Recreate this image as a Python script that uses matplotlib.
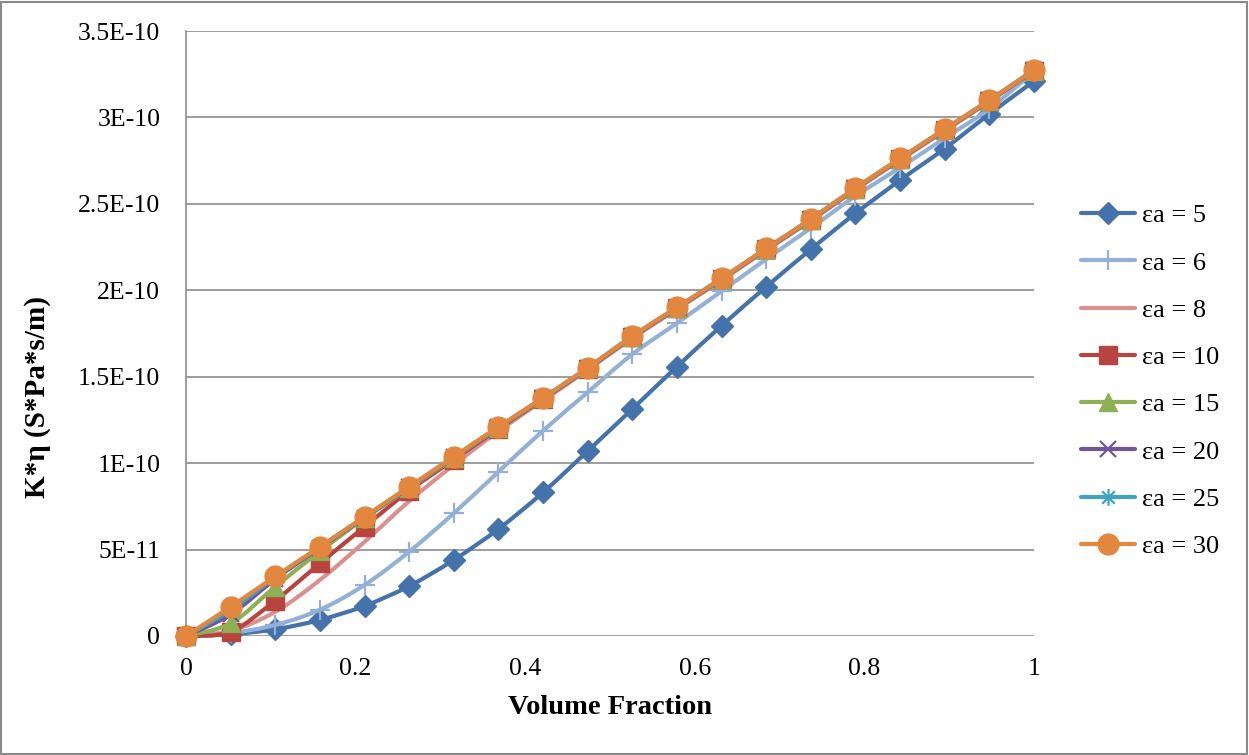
import numpy as np
import matplotlib
matplotlib.use("Agg")
import matplotlib.pyplot as plt
from matplotlib.path import Path
from matplotlib.patches import PathPatch, Rectangle
from matplotlib.lines import Line2D

# Volume fraction samples (20 equally spaced points from 0 to 1)
volume_fraction = [0.0, 0.0526, 0.1053, 0.1579, 0.2105, 0.2632, 0.3158, 0.3684, 0.4211, 0.4737,
                   0.5263, 0.5789, 0.6316, 0.6842, 0.7368, 0.7895, 0.8421, 0.8947, 0.9474, 1.0]

# K*eta (S*Pa*s/m) for each permittivity ratio
ea_5 = [0, 1.0e-12, 3.9e-12, 9.3e-12, 1.74e-11, 2.89e-11, 4.4e-11, 6.19e-11, 8.31e-11, 1.07e-10,
        1.313e-10, 1.558e-10, 1.795e-10, 2.02e-10, 2.237e-10, 2.445e-10, 2.637e-10, 2.82e-10, 3.02e-10, 3.21e-10]
ea_6 = [0, 1.7e-12, 6.4e-12, 1.52e-11, 2.95e-11, 4.88e-11, 7.1e-11, 9.5e-11, 1.188e-10, 1.41e-10,
        1.63e-10, 1.81e-10, 1.995e-10, 2.18e-10, 2.36e-10, 2.545e-10, 2.71e-10, 2.88e-10, 3.05e-10, 3.265e-10]
ea_8 = [0, 3.0e-12, 1.4e-11, 3.24e-11, 5.45e-11, 7.8e-11, 9.9e-11, 1.185e-10, 1.362e-10, 1.54e-10,
        1.722e-10, 1.89e-10, 2.058e-10, 2.232e-10, 2.402e-10, 2.582e-10, 2.753e-10, 2.922e-10, 3.092e-10, 3.268e-10]
ea_10 = [0, 2.5e-12, 2.05e-11, 4.2e-11, 6.32e-11, 8.4e-11, 1.02e-10, 1.198e-10, 1.37e-10, 1.545e-10,
         1.728e-10, 1.895e-10, 2.063e-10, 2.236e-10, 2.406e-10, 2.586e-10, 2.757e-10, 2.926e-10, 3.095e-10, 3.27e-10]
ea_15 = [0, 7.3e-12, 2.85e-11, 4.9e-11, 6.8e-11, 8.55e-11, 1.03e-10, 1.205e-10, 1.374e-10, 1.548e-10,
         1.731e-10, 1.897e-10, 2.065e-10, 2.238e-10, 2.408e-10, 2.588e-10, 2.759e-10, 2.928e-10, 3.097e-10, 3.271e-10]
ea_20 = [0, 1.25e-11, 3.3e-11, 5.1e-11, 6.85e-11, 8.6e-11, 1.034e-10, 1.207e-10, 1.376e-10, 1.55e-10,
         1.733e-10, 1.899e-10, 2.067e-10, 2.24e-10, 2.41e-10, 2.59e-10, 2.761e-10, 2.93e-10, 3.099e-10, 3.273e-10]
ea_25 = [0, 1.5e-11, 3.4e-11, 5.15e-11, 6.88e-11, 8.62e-11, 1.035e-10, 1.208e-10, 1.377e-10, 1.551e-10,
         1.734e-10, 1.9e-10, 2.068e-10, 2.241e-10, 2.411e-10, 2.591e-10, 2.762e-10, 2.931e-10, 3.1e-10, 3.274e-10]
ea_30 = [0, 1.69e-11, 3.45e-11, 5.16e-11, 6.9e-11, 8.64e-11, 1.037e-10, 1.21e-10, 1.378e-10, 1.552e-10,
         1.735e-10, 1.901e-10, 2.069e-10, 2.242e-10, 2.412e-10, 2.592e-10, 2.763e-10, 2.932e-10, 3.1e-10, 3.274e-10]

series_labels = ["εa = 5", "εa = 6", "εa = 8", "εa = 10", "εa = 15", "εa = 20", "εa = 25", "εa = 30"]
series_values = [ea_5, ea_6, ea_8, ea_10, ea_15, ea_20, ea_25, ea_30]

y_ticks = [0, 5e-11, 1e-10, 1.5e-10, 2e-10, 2.5e-10, 3e-10, 3.5e-10]
y_tick_labels = ["0", "5E-11", "1E-10", "1.5E-10", "2E-10", "2.5E-10", "3E-10", "3.5E-10"]
x_ticks = [0, 0.2, 0.4, 0.6, 0.8, 1]
x_tick_labels = ["0", "0.2", "0.4", "0.6", "0.8", "1"]

# Asterisk marker: a vertical stroke plus an X
star_marker = Path([(0, -1), (0, 1), (-0.75, -0.75), (0.75, 0.75), (-0.75, 0.75), (0.75, -0.75)],
                   [Path.MOVETO, Path.LINETO, Path.MOVETO, Path.LINETO, Path.MOVETO, Path.LINETO])

styles = [
    dict(color="#4472AA", marker="D", ms=11),
    dict(color="#93B0D6", marker="+", ms=15, mew=1.6),
    dict(color="#D9908E", marker=None, ms=0),
    dict(color="#B9443F", marker="s", ms=13),
    dict(color="#8DB052", marker="^", ms=13),
    dict(color="#72569A", marker="x", ms=12, mew=1.6),
    dict(color="#3FA3C2", marker=star_marker, ms=12, mew=1.6),
    dict(color="#E3863E", marker="o", ms=15),
]


def smooth_path(x, y):
    """Cubic Bezier path through the points (Catmull-Rom style tangents)."""
    pts = np.column_stack([x, y]).astype(float)
    n = len(pts)
    verts = [pts[0]]
    codes = [Path.MOVETO]
    for i in range(n - 1):
        p0 = pts[i - 1] if i > 0 else pts[i]
        p1 = pts[i]
        p2 = pts[i + 1]
        p3 = pts[i + 2] if i + 2 < n else pts[i + 1]
        c1 = p1 + (p2 - p0) / 6.0
        c2 = p2 - (p3 - p1) / 6.0
        verts += [c1, c2, p2]
        codes += [Path.CURVE4] * 3
    return Path(verts, codes)


W, H = 1249, 755
fig = plt.figure(figsize=(W / 100, H / 100), dpi=100)
fig.patch.set_facecolor("white")
ax = fig.add_axes([186 / W, 1 - 636 / H, (1034 - 186) / W, (636 - 31) / H])

line_w = 3.0
handles = []
for i, (label, vals, st) in enumerate(zip(series_labels, series_values, styles)):
    z = 3 + i
    patch = PathPatch(smooth_path(volume_fraction, vals), fill=False, edgecolor=st["color"],
                      lw=line_w, capstyle="round", joinstyle="round", zorder=z)
    patch.set_clip_on(False)
    ax.add_patch(patch)
    if st["marker"] is not None:
        ax.plot(volume_fraction, vals, linestyle="none", marker=st["marker"], ms=st["ms"],
                color=st["color"], mec=st["color"], mew=st.get("mew", 1.0),
                zorder=z + 0.5, clip_on=False)
    handles.append(Line2D([], [], color=st["color"], lw=line_w, solid_capstyle="round",
                          marker=st["marker"] if st["marker"] is not None else "",
                          ms=st["ms"], mec=st["color"], mew=st.get("mew", 1.0)))

ax.set_xlim(0, 1)
ax.set_ylim(0, 3.5e-10)
ax.set_yticks(y_ticks)
ax.set_yticklabels(y_tick_labels, fontfamily="Liberation Serif", fontsize=18.5)
ax.set_xticks(x_ticks)
ax.set_xticklabels(x_tick_labels, fontfamily="Liberation Serif", fontsize=18.5)
ax.tick_params(axis="both", length=0)
ax.tick_params(axis="y", pad=18.5)
ax.tick_params(axis="x", pad=16)

ax.yaxis.grid(True, color="#8C8C8C", lw=1.2, zorder=1)
ax.set_axisbelow(True)
for side in ["top", "right", "bottom"]:
    ax.spines[side].set_visible(False)
ax.spines["left"].set_color("#8C8C8C")
ax.spines["left"].set_linewidth(1.2)

fig.text(610 / W, 1 - 708 / H, "Volume Fraction", fontfamily="Liberation Serif", fontweight="bold",
         fontsize=20.5, ha="center", va="center")
fig.text(38 / W, 1 - 397 / H, "K*η (S*Pa*s/m)", fontfamily="Liberation Serif", fontweight="bold",
         fontsize=21, ha="center", va="center", rotation=90)

fig.legend(handles=handles, labels=series_labels, loc="upper left",
           bbox_to_anchor=(1081 / W, 1 - 204 / H), frameon=False,
           prop={"family": "Liberation Serif", "size": 19},
           handlelength=2.05, handletextpad=0.25, labelspacing=0.9, borderpad=0, borderaxespad=0)

fig.add_artist(Rectangle((0.001, 0.001), 0.997, 0.997, transform=fig.transFigure, fill=False,
                         edgecolor="#8A8A8A", lw=1.5))

fig.savefig("out.png", dpi=100, facecolor="white")
